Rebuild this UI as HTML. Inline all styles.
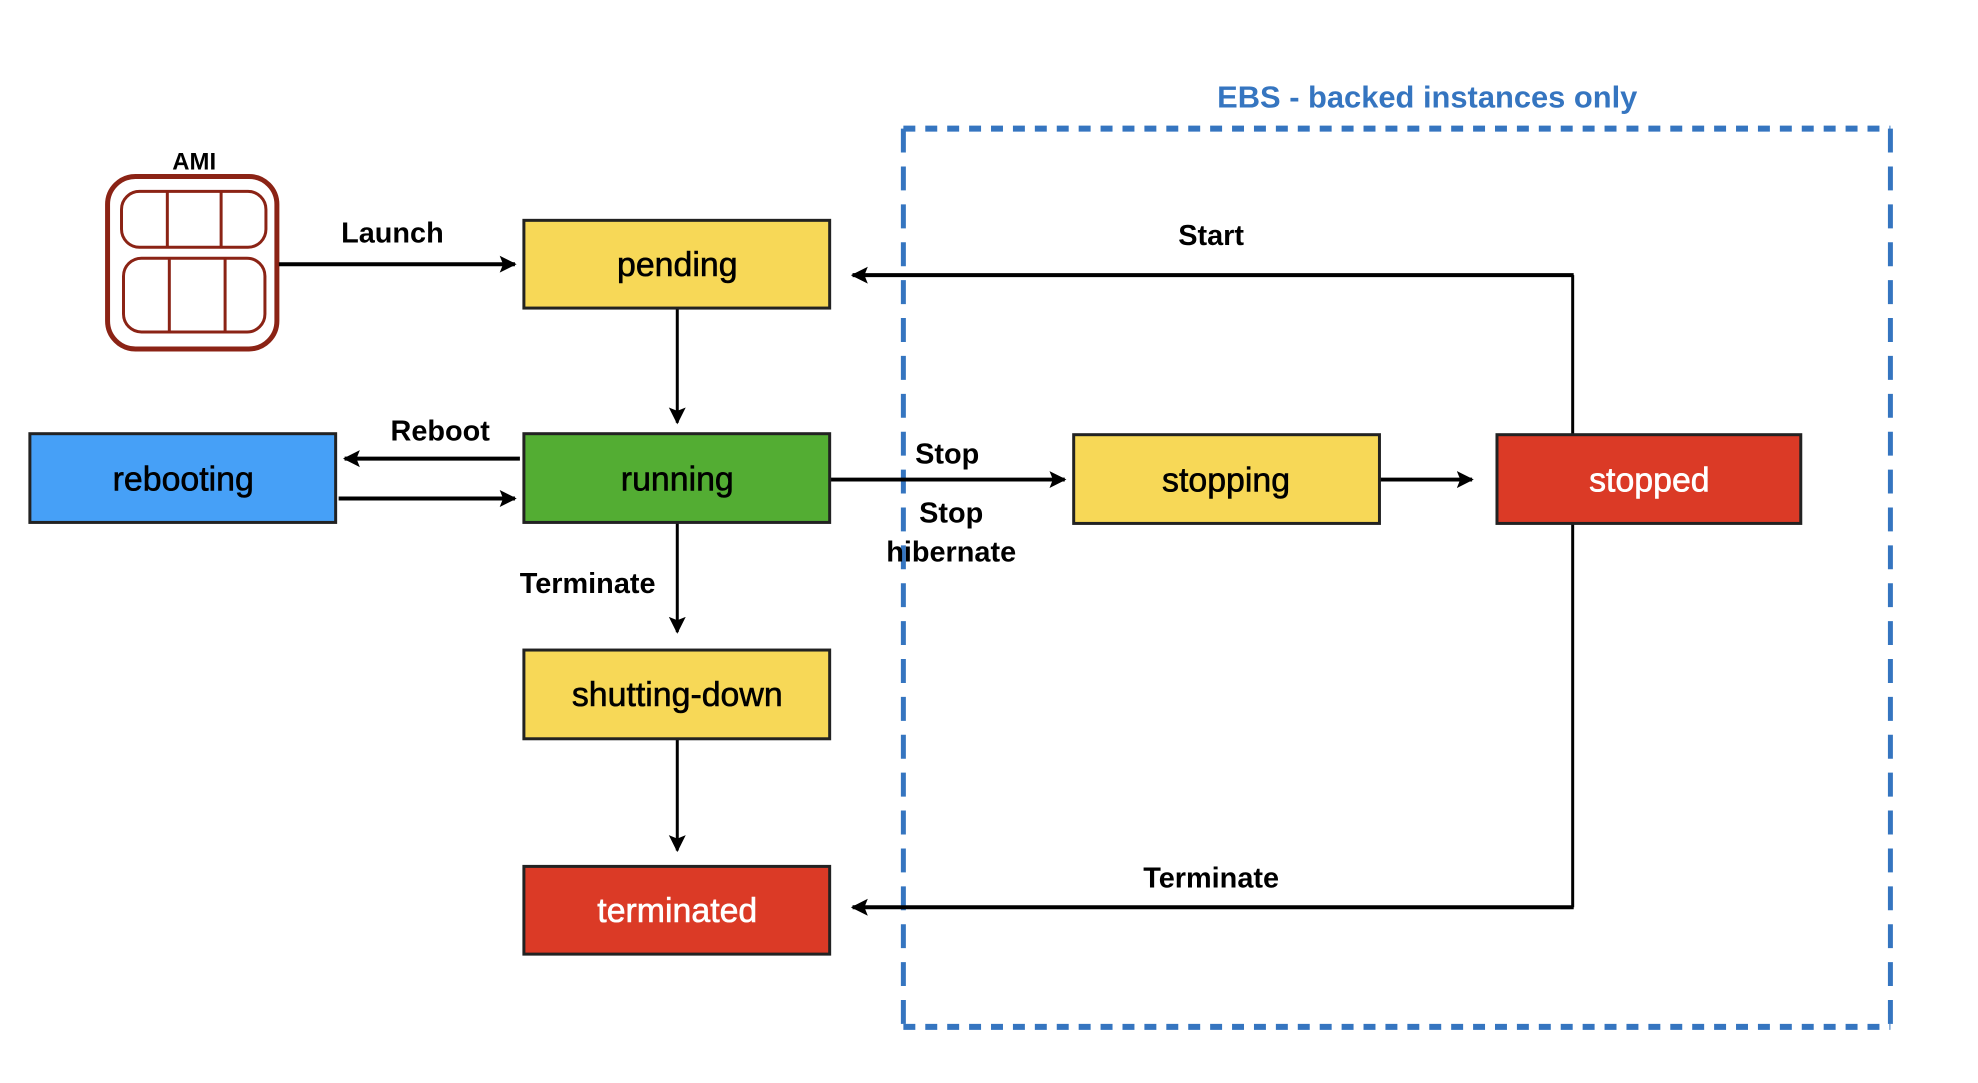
<!DOCTYPE html>
<html><head><meta charset="utf-8"><style>
body{margin:0;background:#fff;}
svg text{font-family:"Liberation Sans",sans-serif;}
</style></head><body>
<svg width="1978" height="1078" xmlns="http://www.w3.org/2000/svg">
<defs>
<marker id="b" viewBox="0 0 10 10" refX="9" refY="5" markerWidth="17" markerHeight="20" orient="auto" markerUnits="userSpaceOnUse"><path d="M0,0 L10,5 L0,10 L2,5z" fill="#000"/></marker>
</defs>
<rect width="1978" height="1078" fill="#fff"/>
<g transform="scale(0.996 0.997)">
<line x1="907" y1="129" x2="1898" y2="129" stroke="#3575c0" stroke-width="6" stroke-dasharray="12,10"/>
<line x1="907" y1="1030" x2="1898" y2="1030" stroke="#3575c0" stroke-width="6" stroke-dasharray="12,10"/>
<line x1="907" y1="129" x2="907" y2="1030" stroke="#3575c0" stroke-width="5" stroke-dasharray="24,14"/>
<line x1="1898" y1="129" x2="1898" y2="1030" stroke="#3575c0" stroke-width="5" stroke-dasharray="24,14"/>
<text x="1433" y="108" font-size="31" font-weight="bold" fill="#3575c0" text-anchor="middle">EBS - backed instances only</text>
<text x="195" y="170" font-size="24" font-weight="bold" text-anchor="middle">AMI</text>
<rect x="108" y="177" width="170" height="173" rx="28" fill="none" stroke="#8b2315" stroke-width="5"/>
<rect x="122" y="192" width="145" height="56" rx="18" fill="none" stroke="#8b2315" stroke-width="3"/>
<rect x="124" y="259" width="142" height="74" rx="18" fill="none" stroke="#8b2315" stroke-width="3"/>
<line x1="168" y1="192" x2="168" y2="249" stroke="#8b2315" stroke-width="3"/>
<line x1="222" y1="192" x2="222" y2="249" stroke="#8b2315" stroke-width="3"/>
<line x1="170" y1="259" x2="170" y2="333" stroke="#8b2315" stroke-width="3"/>
<line x1="226" y1="259" x2="226" y2="333" stroke="#8b2315" stroke-width="3"/>
<g stroke="#000" fill="none">
<line x1="280" y1="265" x2="517" y2="265" stroke-width="4" marker-end="url(#b)"/>
<line x1="680" y1="309" x2="680" y2="424" stroke-width="3" marker-end="url(#b)"/>
<line x1="522" y1="460" x2="346" y2="460" stroke-width="4" marker-end="url(#b)"/>
<line x1="340" y1="500" x2="517" y2="500" stroke-width="4" marker-end="url(#b)"/>
<line x1="680" y1="524" x2="680" y2="634" stroke-width="3" marker-end="url(#b)"/>
<line x1="680" y1="741" x2="680" y2="853" stroke-width="3" marker-end="url(#b)"/>
<line x1="833" y1="481" x2="1069" y2="481" stroke-width="4" marker-end="url(#b)"/>
<line x1="1385" y1="481" x2="1478" y2="481" stroke-width="4" marker-end="url(#b)"/>
<line x1="1579" y1="436" x2="1579" y2="276" stroke-width="3"/>
<line x1="1580" y1="276" x2="856" y2="276" stroke-width="4" marker-end="url(#b)"/>
<line x1="1579" y1="525" x2="1579" y2="910" stroke-width="3"/>
<line x1="1580" y1="910" x2="856" y2="910" stroke-width="4" marker-end="url(#b)"/>
</g>
<g stroke="#222" stroke-width="3">
<rect x="526" y="221" width="307" height="88" fill="#f7d857"/>
<rect x="526" y="435" width="307" height="89" fill="#53ad33"/>
<rect x="30" y="435" width="307" height="89" fill="#46a0f7"/>
<rect x="526" y="652" width="307" height="89" fill="#f7d857"/>
<rect x="526" y="869" width="307" height="88" fill="#db3a26"/>
<rect x="1078" y="436" width="307" height="89" fill="#f7d857"/>
<rect x="1503" y="436" width="305" height="89" fill="#db3a26"/>
</g>
<g font-size="34" text-anchor="middle" stroke-width="0.6">
<text x="680" y="277" stroke="#000">pending</text>
<text x="680" y="492" stroke="#000">running</text>
<text x="184" y="492" stroke="#000">rebooting</text>
<text x="680" y="708" stroke="#000">shutting-down</text>
<text x="680" y="925" fill="#fff" stroke="#fff">terminated</text>
<text x="1231" y="493" stroke="#000">stopping</text>
<text x="1656" y="493" fill="#fff" stroke="#fff">stopped</text>
</g>
<g font-size="29" font-weight="bold" text-anchor="middle">
<text x="394" y="243">Launch</text>
<text x="442" y="442">Reboot</text>
<text x="951" y="465">Stop</text>
<text x="955" y="524">Stop</text>
<text x="955" y="563">hibernate</text>
<text x="590" y="595">Terminate</text>
<text x="1216" y="246">Start</text>
<text x="1216" y="890">Terminate</text>
</g>
</g>
</svg>
</body></html>
